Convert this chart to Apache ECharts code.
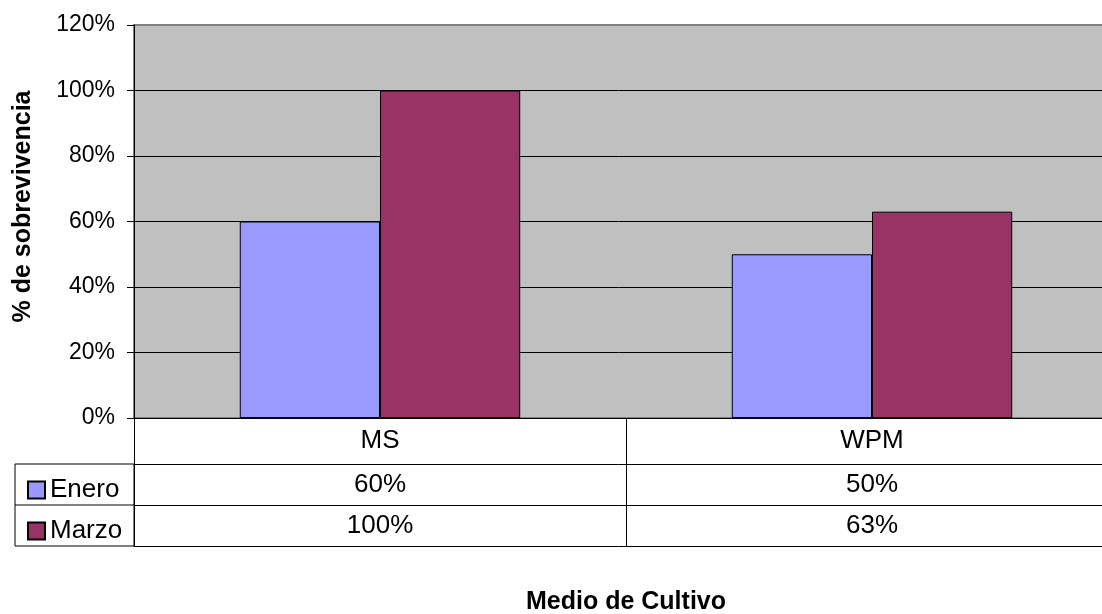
<!DOCTYPE html>
<html>
<head>
<meta charset="utf-8">
<script src="https://cdn.jsdelivr.net/npm/echarts@6/dist/echarts.min.js"></script>
<style>
  html, body { margin: 0; padding: 0; background: #fff; }
  #chart { width: 1102px; height: 614px; }
</style>
</head>
<body>
<div id="chart"></div>
<script>
const categories = ['MS', 'WPM'];
const enero = [0.60, 0.50];
const marzo = [1.00, 0.63];
const yTicks = [0, 0.2, 0.4, 0.6, 0.8, 1.0, 1.2];

const font = "'Liberation Sans', Arial, sans-serif";
const pct = v => Math.round(v * 100) + '%';

const chart = echarts.init(document.getElementById('chart'));

// one extra x axis per table row, shifted down by offset
function tableRow(values, offset, showLine) {
  return {
    type: 'category',
    data: categories,
    position: 'bottom',
    offset: offset,
    axisLine: { show: showLine, lineStyle: { color: '#000', width: 1 } },
    axisTick: { show: false },
    axisLabel: {
      show: values != null,
      margin: 8,
      fontSize: 26,
      color: '#000',
      fontFamily: font,
      formatter: (v, i) => values ? pct(values[i]) : ''
    }
  };
}

// top gridline is the grey plot border in the original
const splitColors = yTicks.map((t, i) => i === yTicks.length - 1 ? '#808080' : '#000');

const option = {
  animation: false,
  textStyle: { fontFamily: font },
  grid: {
    left: 134, top: 25, width: 984, height: 393,
    outerBoundsMode: 'none',
    containLabel: false,
    show: true,
    backgroundColor: '#C0C0C0',
    borderColor: '#808080',
    borderWidth: 2
  },
  legend: {
    orient: 'vertical',
    left: 22,
    top: 472,
    itemWidth: 17,
    itemHeight: 17,
    itemGap: 15,
    icon: 'rect',
    textStyle: { fontSize: 26, color: '#000', fontFamily: font, lineHeight: 26 },
    data: ['Enero', 'Marzo']
  },
  xAxis: [
    {
      type: 'category',
      data: categories,
      name: 'Medio de Cultivo',
      nameLocation: 'middle',
      nameGap: 172,
      nameTextStyle: { fontSize: 25, fontWeight: 'bold', color: '#000', fontFamily: font },
      axisLine: { lineStyle: { color: '#000', width: 1 } },
      axisTick: { show: true, length: 128, lineStyle: { color: '#000', width: 1 } },
      axisLabel: { margin: 10, fontSize: 26, color: '#000', fontFamily: font }
    },
    tableRow(enero, 46, true),
    tableRow(marzo, 87, true),
    tableRow(null, 128, true)
  ],
  yAxis: {
    type: 'value',
    min: 0,
    max: 1.2,
    interval: 0.2,
    name: '% de sobrevivencia',
    nameLocation: 'middle',
    nameRotate: 90,
    nameGap: 98,
    nameTextStyle: {
      fontSize: 25, fontWeight: 'bold', color: '#000', fontFamily: font,
      padding: [0, 0, 0, 30]
    },
    axisLine: { show: true, lineStyle: { color: '#000', width: 1 } },
    axisTick: { show: true, length: 7, lineStyle: { color: '#000' } },
    axisLabel: {
      margin: 19,
      fontSize: 23,
      color: '#000',
      fontFamily: font,
      formatter: v => pct(v)
    },
    splitLine: { show: true, lineStyle: { color: splitColors, width: 1 } }
  },
  series: [
    {
      name: 'Enero',
      type: 'bar',
      data: enero,
      barGap: 0,
      barCategoryGap: '43%',
      itemStyle: { color: '#9999FF', borderColor: '#000', borderWidth: 1 }
    },
    {
      name: 'Marzo',
      type: 'bar',
      data: marzo,
      barGap: 0,
      barCategoryGap: '43%',
      itemStyle: { color: '#993366', borderColor: '#000', borderWidth: 1 }
    }
  ],
  graphic: [
    {
      type: 'rect',
      shape: { x: 15, y: 464, width: 119, height: 82 },
      style: { fill: 'none', stroke: '#000', lineWidth: 1 },
      z: 10
    },
    {
      type: 'line',
      shape: { x1: 15, y1: 505, x2: 134, y2: 505 },
      style: { stroke: '#000', lineWidth: 1 },
      z: 10
    }
  ]
};

chart.setOption(option);
</script>
</body>
</html>
